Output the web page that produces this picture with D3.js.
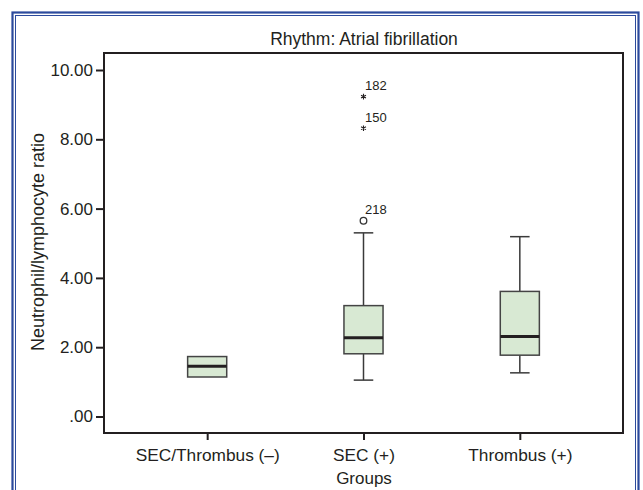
<!DOCTYPE html>
<html>
<head>
<meta charset="utf-8">
<script src="https://cdn.jsdelivr.net/npm/d3@7"></script>
<style>
  html, body { margin: 0; padding: 0; background: #fff; }
  svg { display: block; }
  text { font-family: "Liberation Sans", Arial, Helvetica, sans-serif; fill: #231f20; }
</style>
</head>
<body>
<svg id="chart" width="643" height="490"></svg>
<script>
// ---- data ----
const categories = ["SEC/Thrombus (–)", "SEC (+)", "Thrombus (+)"];
const whiskerLow  = [1.14, 1.05, 1.26];
const q1          = [1.14, 1.81, 1.77];
const median      = [1.45, 2.27, 2.31];
const q3          = [1.73, 3.20, 3.61];
const whiskerHigh = [1.73, 5.30, 5.19];
const outlierGroup = ["SEC (+)", "SEC (+)", "SEC (+)"];
const outlierValue = [5.65, 8.32, 9.23];
const outlierLabel = ["218", "150", "182"];
const outlierType  = ["circle", "star", "star"];
const yTicks = [0, 2, 4, 6, 8, 10];
const yTickLabels = [".00", "2.00", "4.00", "6.00", "8.00", "10.00"];
const title = "Rhythm: Atrial fibrillation";
const xTitle = "Groups";
const yTitle = "Neutrophil/lymphocyte ratio";

// ---- layout ----
const svg = d3.select("#chart");
const frame = { left: 104, right: 623, top: 53, bottom: 433 };
const font = "Liberation Sans, Arial, sans-serif";

// page double border
const blue = "#2c4a9c";
svg.append("rect").attr("x", 12.5).attr("y", 12.5).attr("width", 626).attr("height", 500)
  .attr("fill", "none").attr("stroke", blue).attr("stroke-width", 2.2);
svg.append("rect").attr("x", 15.5).attr("y", 15.5).attr("width", 620).attr("height", 500)
  .attr("fill", "none").attr("stroke", blue).attr("stroke-width", 1);

const x = d3.scalePoint().domain(categories).range([frame.left, frame.right]).padding(0.66);
const y = d3.scaleLinear().domain([0, 10]).range([416.5, 70]);
const step = x.step();
const boxW = step * 0.25;
const capW = boxW * 0.5;

// axes
const yAxis = d3.axisLeft(y).tickValues(yTicks)
  .tickFormat((d, i) => yTickLabels[i]).tickSize(8).tickPadding(3);
const gy = svg.append("g").attr("transform", `translate(${frame.left},0)`).call(yAxis);
gy.select(".domain").remove();
gy.selectAll(".tick line").attr("stroke", "#231f20").attr("stroke-width", 2);
gy.selectAll(".tick text").attr("font-size", 17).attr("font-family", font).attr("fill", "#231f20");

const xAxis = d3.axisBottom(x).tickSize(7).tickPadding(9);
const gx = svg.append("g").attr("transform", `translate(0,${frame.bottom})`).call(xAxis);
gx.select(".domain").remove();
gx.selectAll(".tick line").attr("stroke", "#231f20").attr("stroke-width", 2);
gx.selectAll(".tick text").attr("font-size", 17.3).attr("font-family", font).attr("fill", "#231f20");

// plot frame
svg.append("rect")
  .attr("x", frame.left).attr("y", frame.top)
  .attr("width", frame.right - frame.left).attr("height", frame.bottom - frame.top)
  .attr("fill", "none").attr("stroke", "#231f20").attr("stroke-width", 2);

// boxes
const boxes = categories.map((c, i) => ({
  c, lo: whiskerLow[i], q1: q1[i], med: median[i], q3: q3[i], hi: whiskerHigh[i]
}));
const gb = svg.append("g");
boxes.forEach(b => {
  const cx = x(b.c);
  const g = gb.append("g");
  const lineCol = "#3a3a3a";
  if (b.hi > b.q3) {
    g.append("line").attr("x1", cx).attr("x2", cx).attr("y1", y(b.q3)).attr("y2", y(b.hi))
      .attr("stroke", lineCol).attr("stroke-width", 1.5);
    g.append("line").attr("x1", cx - capW / 2).attr("x2", cx + capW / 2).attr("y1", y(b.hi)).attr("y2", y(b.hi))
      .attr("stroke", lineCol).attr("stroke-width", 1.5);
  }
  if (b.lo < b.q1) {
    g.append("line").attr("x1", cx).attr("x2", cx).attr("y1", y(b.q1)).attr("y2", y(b.lo))
      .attr("stroke", lineCol).attr("stroke-width", 1.5);
    g.append("line").attr("x1", cx - capW / 2).attr("x2", cx + capW / 2).attr("y1", y(b.lo)).attr("y2", y(b.lo))
      .attr("stroke", lineCol).attr("stroke-width", 1.5);
  }
  g.append("rect").attr("x", cx - boxW / 2).attr("y", y(b.q3))
    .attr("width", boxW).attr("height", y(b.q1) - y(b.q3))
    .attr("fill", "#d8e9d3").attr("stroke", "#444").attr("stroke-width", 1.5);
  g.append("line").attr("x1", cx - boxW / 2).attr("x2", cx + boxW / 2).attr("y1", y(b.med)).attr("y2", y(b.med))
    .attr("stroke", "#231f20").attr("stroke-width", 3);
});

// outliers
const outs = outlierValue.map((v, i) => ({ g: outlierGroup[i], v, label: outlierLabel[i], type: outlierType[i] }));
const go = svg.append("g");
outs.forEach(o => {
  const cx = x(o.g), cy = y(o.v);
  if (o.type === "circle") {
    go.append("circle").attr("cx", cx).attr("cy", cy).attr("r", 3.3)
      .attr("fill", "#fff").attr("stroke", "#333").attr("stroke-width", 1.3);
  } else {
    go.append("path").attr("transform", `translate(${cx},${cy})`)
      .attr("d", d3.symbol(d3.symbolAsterisk, 22)())
      .attr("fill", "none").attr("stroke", "#231f20").attr("stroke-width", 1.1);
  }
  go.append("text").attr("x", cx + 1.5).attr("y", cy - 6.3)
    .attr("font-size", 13).text(o.label);
});

// titles
svg.append("text").attr("x", 364).attr("y", 45).attr("text-anchor", "middle")
  .attr("font-size", 17.5).text(title);
svg.append("text").attr("x", 364).attr("y", 484).attr("text-anchor", "middle")
  .attr("font-size", 17).text(xTitle);
svg.append("text").attr("transform", "translate(44,242) rotate(-90)").attr("text-anchor", "middle")
  .attr("font-size", 18).text(yTitle);
</script>
</body>
</html>
